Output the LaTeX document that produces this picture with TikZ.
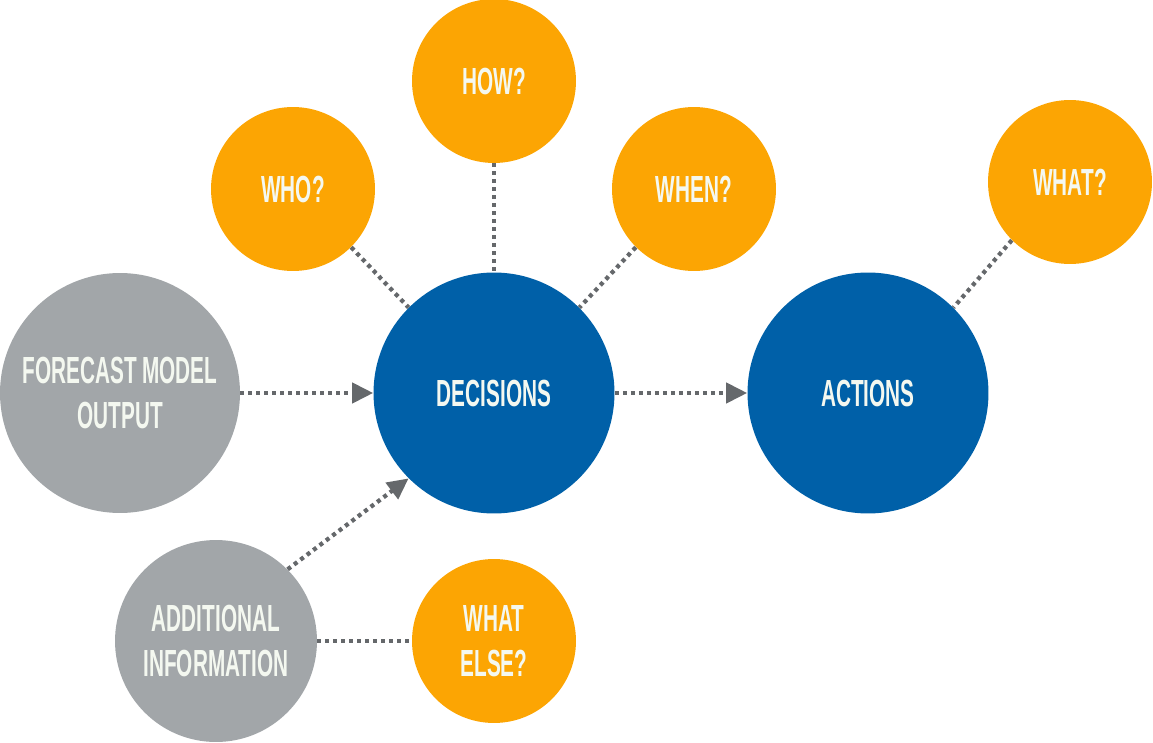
\documentclass[tikz,border=0pt]{standalone}
\usepackage{fontspec}
\usetikzlibrary{arrows.meta}
\newfontfamily\labelfont[FakeStretch=0.55]{Liberation Sans}
\definecolor{qorange}{HTML}{FCA503}
\definecolor{qblue}{HTML}{0060A8}
\definecolor{qgray}{HTML}{A2A6A9}
\definecolor{qline}{HTML}{65686B}
\definecolor{qtext}{HTML}{F4F8F0}
\begin{document}
\begin{tikzpicture}[x=0.02cm,y=-0.02cm,
        bubble/.style={circle,inner sep=0pt,text=qtext,align=center,
            font=\labelfont\bfseries\fontsize{21.5}{25.6}\selectfont},
        small/.style={bubble,fill=qorange,minimum size=3.28cm},
        big/.style={bubble,fill=qblue,minimum size=4.82cm},
        source/.style={bubble,fill=qgray},
        link/.style={qline,line width=0.085cm,dash pattern=on 0.08cm off 0.08cm},
        feed/.style={link,-{Triangle[length=0.42cm,width=0.4cm]}}]
        \useasboundingbox (0,0) rectangle (1153,743);

        % centro
        \node[big] (decisions) at (494,393) {DECISIONS};
        \node[big] (actions) at (868,393) {ACTIONS};

        % domande
        \node[small] (who) at (293,189) {WHO?};
        \node[small] (how) at (494,81) {HOW?};
        \node[small] (when) at (694,189) {WHEN?};
        \node[small] (what) at (1070,182) {WHAT?};
        \node[small] (whatelse) at (494,641) {WHAT\\ELSE?};

        % ingressi
        \node[source,minimum size=4.8cm] (forecast) at (120,393) {FORECAST MODEL\\OUTPUT};
        \node[source,minimum size=4.04cm] (additional) at (216,641) {ADDITIONAL\\INFORMATION};

        % collegamenti
        \draw[link] (who.south east) -- (decisions.north west);
        \draw[link] (how) -- (decisions);
        \draw[link] (when.south west) -- (decisions.north east);
        \draw[link] (what.south west) -- (actions.north east);
        \draw[link] (additional) -- (whatelse);
        \draw[feed] (forecast) -- (decisions);
        \draw[feed] (decisions) -- (actions);
        \draw[feed] (additional.north east) -- (decisions.south west);
    \end{tikzpicture}
\end{document}
